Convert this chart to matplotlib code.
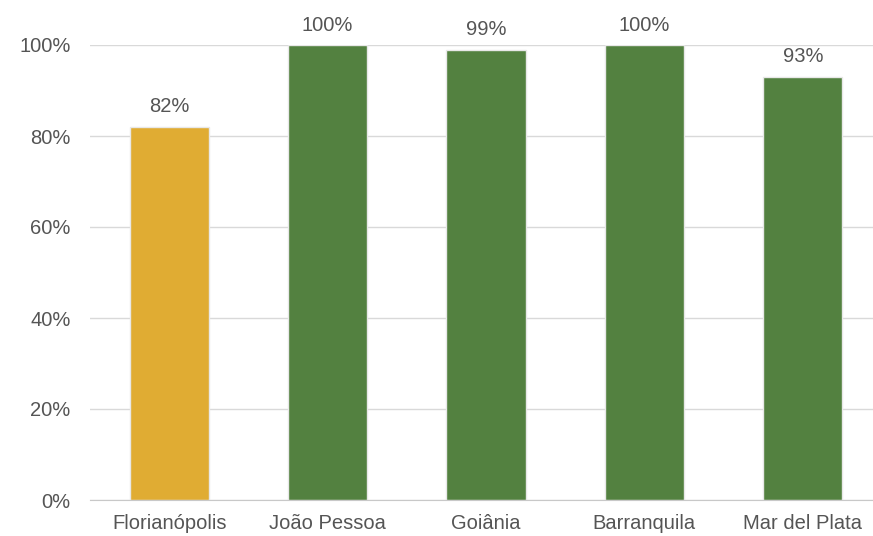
import matplotlib.pyplot as plt

cities = ['Florianópolis', 'João Pessoa', 'Goiânia', 'Barranquila', 'Mar del Plata']
values = [82, 100, 99, 100, 93]
colors = ['#E0AC33', '#538140', '#538140', '#538140', '#538140']
yticks = [0, 20, 40, 60, 80, 100]

plt.rcParams['font.family'] = ['Liberation Sans', 'DejaVu Sans']

fig = plt.figure(figsize=(8.73, 5.36), dpi=100)
ax = fig.add_axes([90 / 873, 36 / 536, 792 / 873, 455 / 536])

x = range(len(cities))
bars = ax.bar(x, values, width=0.5, color=colors, edgecolor='#e8e8e8', linewidth=1, zorder=3)

for xi, v in zip(x, values):
    ax.text(xi, v + 2.3, f'{v}%', ha='center', va='bottom', fontsize=14.5,
            color='#555555', clip_on=False)

ax.set_xlim(-0.5, 4.5)
ax.set_ylim(0, 100)
ax.set_yticks(yticks)
ax.set_yticklabels([f'{t}%' for t in yticks])
ax.set_xticks(list(x))
ax.set_xticklabels(cities)
ax.tick_params(axis='both', length=0, labelsize=14.5, labelcolor='#555555')
ax.tick_params(axis='y', pad=14)
ax.tick_params(axis='x', pad=10)

ax.grid(axis='y', color='#d9d9d9', linewidth=1, zorder=0)
for s in ['top', 'right', 'left']:
    ax.spines[s].set_visible(False)
ax.spines['bottom'].set_color('#c8c8c8')
ax.spines['bottom'].set_zorder(4)

fig.savefig('out.png', dpi=100)
